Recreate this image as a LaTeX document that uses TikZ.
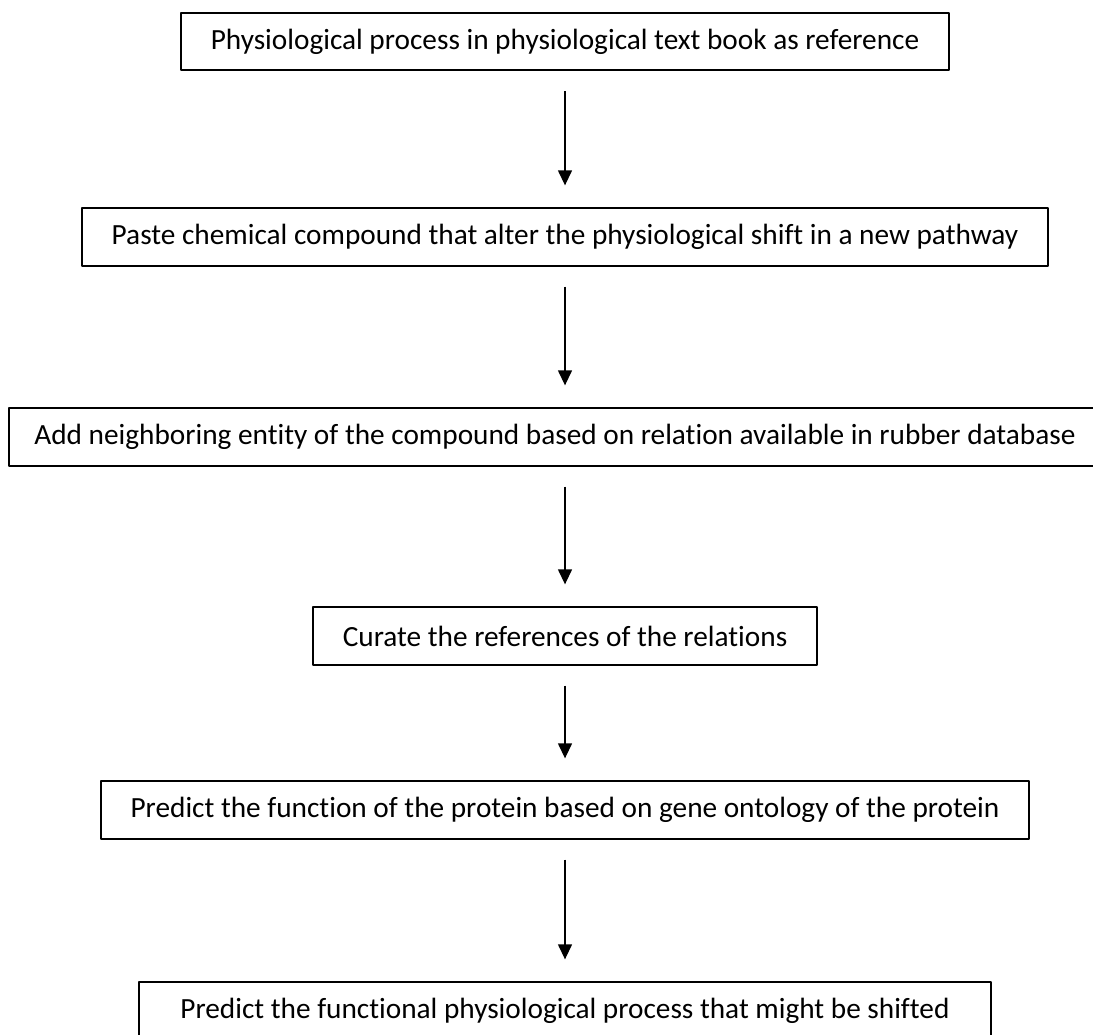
\documentclass[tikz,border=0pt]{standalone}
\usepackage{fontspec}
\setmainfont{Carlito}[Ligatures=CommonOff]
\usetikzlibrary{arrows.meta}
\tikzset{
  stepbox/.style={draw, line width=0.06cm, minimum height=1.72cm, inner xsep=0.9cm, align=center},
  flowarrow/.style={->, line width=0.04cm, shorten <=0.6cm, shorten >=0.66cm}
}
\begin{document}
\begin{tikzpicture}[x=0.03cm, y=-0.03cm, font=\fontsize{25}{30}\selectfont, >={Triangle[length=0.45cm,width=0.42cm]}, line join=round]

  \useasboundingbox (0,0) rectangle (1093,1034);
  \clip (0,0) rectangle (1093,1034);

  \node[stepbox] (textbook) at (565,41.5) {Physiological process in physiological text book as reference};
  \node[stepbox] (paste) at (565,237) {Paste chemical compound that alter the physiological shift in a new pathway};
  \node[stepbox, inner xsep=0.75cm] (neighbor) at (555,437) {Add neighboring entity of the compound based on relation available in rubber database};
  \node[stepbox] (curate) at (565,636) {Curate the references of the relations};
  \node[stepbox] (function) at (565,810) {Predict the function of the protein based on gene ontology of the protein};
  \node[stepbox, inner xsep=1.25cm] (shifted) at (565,1011) {Predict the functional physiological process that might be shifted};

  \draw[flowarrow] (textbook) -- (paste);
  \draw[flowarrow] (paste.south) -- (paste.south |- neighbor.north);
  \draw[flowarrow] (neighbor.south -| curate.north) -- (curate.north);
  \draw[flowarrow] (curate) -- (function);
  \draw[flowarrow] (function) -- (shifted);
\end{tikzpicture}
\end{document}
